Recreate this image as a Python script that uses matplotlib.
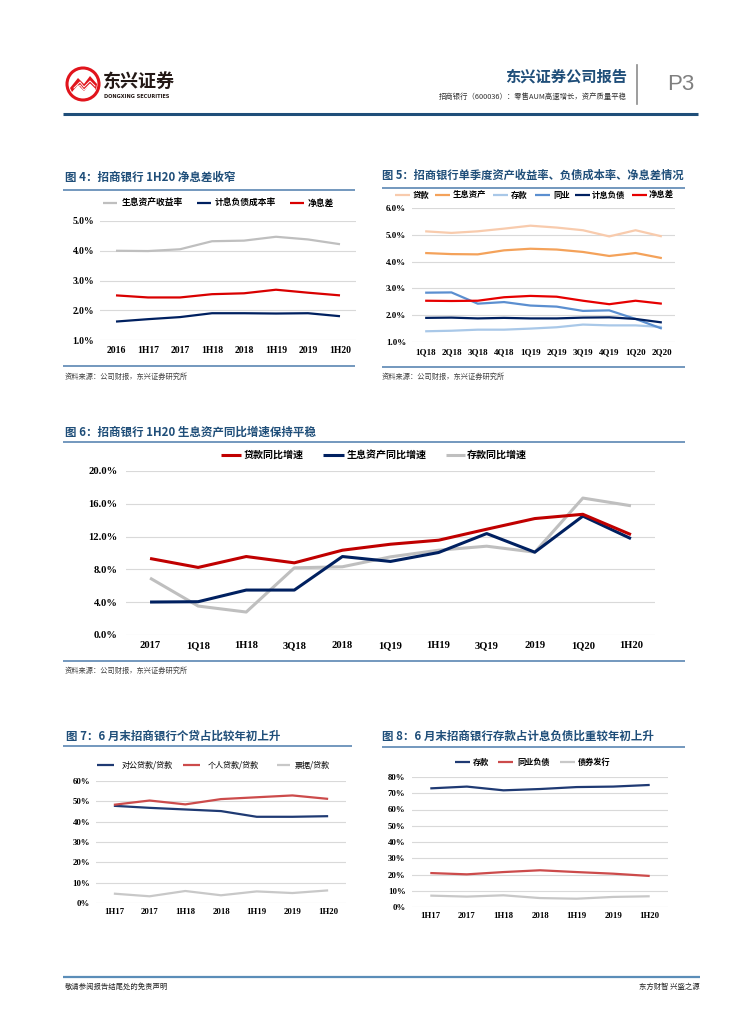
import matplotlib
matplotlib.use('Agg')
import matplotlib.pyplot as plt
from matplotlib.patches import Circle, Polygon
from matplotlib.lines import Line2D

plt.rcParams['font.family'] = ['Noto Sans CJK SC', 'DejaVu Sans']

# ---------------- data ----------------
c4_cats = ['2016', '1H17', '2017', '1H18', '2018', '1H19', '2019', '1H20']
c4_yield = [4.00, 3.99, 4.05, 4.32, 4.34, 4.47, 4.38, 4.22]
c4_cost = [1.62, 1.70, 1.77, 1.90, 1.90, 1.89, 1.90, 1.80]
c4_nim = [2.50, 2.43, 2.43, 2.54, 2.57, 2.69, 2.59, 2.50]
c4_labels = ['生息资产收益率', '计息负债成本率', '净息差']

c5_cats = ['1Q18', '2Q18', '3Q18', '4Q18', '1Q19', '2Q19', '3Q19', '4Q19', '1Q20', '2Q20']
c5_loan = [5.13, 5.07, 5.13, 5.23, 5.34, 5.27, 5.17, 4.94, 5.17, 4.94]
c5_asset = [4.32, 4.28, 4.27, 4.42, 4.48, 4.45, 4.36, 4.21, 4.32, 4.13]
c5_dep = [1.40, 1.42, 1.46, 1.46, 1.50, 1.55, 1.65, 1.62, 1.62, 1.56]
c5_inter = [2.84, 2.85, 2.43, 2.49, 2.36, 2.32, 2.16, 2.18, 1.86, 1.50]
c5_liab = [1.90, 1.91, 1.88, 1.90, 1.88, 1.88, 1.91, 1.92, 1.86, 1.73]
c5_nim = [2.54, 2.53, 2.54, 2.67, 2.72, 2.69, 2.54, 2.41, 2.54, 2.43]
c5_labels = ['贷款', '生息资产', '存款', '同业', '计息负债', '净息差']

c6_cats = ['2017', '1Q18', '1H18', '3Q18', '2018', '1Q19', '1H19', '3Q19', '2019', '1Q20', '1H20']
c6_loan = [9.33, 8.24, 9.57, 8.80, 10.34, 11.07, 11.56, 12.90, 14.20, 14.72, 12.24]
c6_asset = [4.02, 4.06, 5.48, 5.48, 9.57, 8.97, 10.06, 12.37, 10.10, 14.50, 11.75]
c6_dep = [6.94, 3.53, 2.80, 8.19, 8.32, 9.53, 10.34, 10.83, 10.10, 16.70, 15.76]
c6_labels = ['贷款同比增速', '生息资产同比增速', '存款同比增速']

c7_cats = ['1H17', '2017', '1H18', '2018', '1H19', '2019', '1H20']
c7_corp = [47.8, 46.8, 46.0, 45.2, 42.4, 42.4, 42.7]
c7_retail = [48.3, 50.4, 48.5, 51.1, 52.0, 52.9, 51.2]
c7_bill = [4.6, 3.3, 5.9, 3.8, 5.7, 4.9, 6.2]
c7_labels = ['对公贷款/贷款', '个人贷款/贷款', '票据/贷款']

c8_cats = ['1H17', '2017', '1H18', '2018', '1H19', '2019', '1H20']
c8_dep = [73.0, 74.1, 71.8, 72.6, 73.8, 74.1, 75.1]
c8_inter = [20.9, 20.1, 21.5, 22.6, 21.5, 20.5, 19.1]
c8_bond = [7.0, 6.4, 7.2, 5.5, 5.1, 6.2, 6.6]
c8_labels = ['存款', '同业负债', '债券发行']

titles = ['图 4：招商银行 1H20 净息差收窄',
          '图 5：招商银行单季度资产收益率、负债成本率、净息差情况',
          '图 6：招商银行 1H20 生息资产同比增速保持平稳',
          '图 7：6 月末招商银行个贷占比较年初上升',
          '图 8：6 月末招商银行存款占计息负债比重较年初上升']
source = '资料来源：公司财报，东兴证券研究所'

# ---------------- figure ----------------
W, H = 755, 1024
fig = plt.figure(figsize=(W / 100, H / 100), dpi=100)
bg = fig.add_axes([0, 0, 1, 1])
bg.set_xlim(0, W)
bg.set_ylim(H, 0)
bg.axis('off')

TITLE_C = '#1F4E79'
RULE_C = '#5B86B3'
NUMFONT = 'Liberation Serif'


def hline(x0, x1, y, color=RULE_C, lw=1.2):
    bg.add_line(Line2D([x0, x1], [y, y], color=color, lw=lw, solid_capstyle='butt'))


def add_ax(left, right, top, bottom):
    return fig.add_axes([left / W, 1 - bottom / H, (right - left) / W, (bottom - top) / H])


def line_chart(box, cats, series, ylim, yticks, yfmt, fs, lw, ypad, xpad):
    ax = add_ax(*box)
    x = list(range(len(cats)))
    for vals, color in series:
        ax.plot(x, vals, color=color, lw=lw, solid_joinstyle='round',
                solid_capstyle='butt', clip_on=False, zorder=3)
    ax.set_xlim(-0.5, len(cats) - 0.5)
    ax.set_ylim(*ylim)
    ax.set_yticks(yticks)
    ax.set_yticklabels([yfmt(v) for v in yticks])
    ax.set_xticks(x)
    ax.set_xticklabels(cats)
    ax.grid(axis='y', color='#D9D9D9', lw=0.8)
    ax.set_axisbelow(True)
    for s in ax.spines.values():
        s.set_visible(False)
    ax.tick_params(axis='y', length=0, labelsize=fs, pad=ypad)
    ax.tick_params(axis='x', length=0, labelsize=fs, pad=xpad)
    for t in ax.get_xticklabels() + ax.get_yticklabels():
        t.set_fontfamily(NUMFONT)
        t.set_fontweight('bold')
    ax.patch.set_alpha(0)
    return ax


def legend_item(x0, x1, y, color, lw, label, fs, tx, weight='bold'):
    bg.add_line(Line2D([x0, x1], [y, y], color=color, lw=lw, solid_capstyle='butt'))
    bg.text(tx, y, label, fontsize=fs, fontweight=weight, va='center', ha='left', color='black')


# ---------------- header ----------------
bg.add_patch(Circle((83, 84), 16, fill=False, ec='#E1141C', lw=2.2))
bg.add_patch(Polygon([[70, 88], [78, 78], [84, 84], [90, 76], [97, 84], [96, 90], [90, 84],
                      [84, 91], [78, 85], [72, 92]], closed=True, fc='#E1141C', ec='none'))
for dy in (0, 3):
    bg.add_line(Line2D([74, 80, 84, 90, 95], [88 + dy, 82 + dy, 87 + dy, 81 + dy, 86 + dy],
                       color='white', lw=0.7))
bg.text(103, 81, '东兴证券', fontsize=13, fontweight='bold', color='#231815', va='center', ha='left')
bg.text(104, 96, 'DONGXING SECURITIES', fontsize=3.6, fontweight='bold', color='#231815',
        va='center', ha='left', family='DejaVu Sans')

bg.text(627, 77, '东兴证券公司报告', fontsize=11, fontweight='bold', color=TITLE_C, va='center', ha='right')
bg.text(627, 97, '招商银行（600036）：零售AUM高速增长，资产质量平稳', fontsize=5.3, color='#333333',
        va='center', ha='right')
bg.add_line(Line2D([637, 637], [65, 104], color='#8C8C8C', lw=1.2))
bg.text(667, 85, 'P3', fontsize=16, color='#7F7F7F', va='center', ha='left', family='Liberation Sans')
hline(63, 698, 114, color='#1F4E79', lw=2.2)

# ---------------- chart 4 ----------------
bg.text(65, 177, titles[0], fontsize=8.3, fontweight='bold', color=TITLE_C, va='center', ha='left')
hline(63, 355, 190)
legend_item(103, 117, 203, '#BFBFBF', 1.6, c4_labels[0], 6.3, 122)
legend_item(197, 211, 203, '#002060', 1.6, c4_labels[1], 6.3, 215)
legend_item(290, 304, 203, '#D90000', 1.6, c4_labels[2], 6.3, 308)
line_chart((100, 356, 221, 340), c4_cats,
           [(c4_yield, '#BFBFBF'), (c4_cost, '#002060'), (c4_nim, '#D90000')],
           (1, 5), [1, 2, 3, 4, 5], lambda v: f'{v:.1f}%', 6.9, 1.6, 4.3, 4.0)
hline(63, 355, 366)
bg.text(65, 377, source, fontsize=5.2, color='#404040', va='center', ha='left')

# ---------------- chart 5 ----------------
bg.text(382, 175, titles[1], fontsize=8.1, fontweight='bold', color=TITLE_C, va='center', ha='left')
hline(382, 685, 188)
c5_colors = ['#F8CBAD', '#F4A25A', '#A9C8E8', '#5B8FD0', '#002060', '#E60000']
c5_pos = [(395, 410, 413), (435, 450, 453), (493, 508, 511), (535, 550, 553), (575, 590, 592), (632, 647, 649)]
for (x0, x1, tx), col, lab in zip(c5_pos, c5_colors, c5_labels):
    legend_item(x0, x1, 195, col, 1.6, lab, 6.0, tx)
line_chart((412, 675, 208, 342), c5_cats,
           [(c5_loan, c5_colors[0]), (c5_asset, c5_colors[1]), (c5_dep, c5_colors[2]),
            (c5_inter, c5_colors[3]), (c5_liab, c5_colors[4]), (c5_nim, c5_colors[5])],
           (1, 6), [1, 2, 3, 4, 5, 6], lambda v: f'{v:.1f}%', 6.5, 1.6, 4.3, 4.6)
hline(382, 685, 367)
bg.text(382, 377, source, fontsize=5.2, color='#404040', va='center', ha='left')

# ---------------- chart 6 ----------------
bg.text(65, 432, titles[2], fontsize=8.3, fontweight='bold', color=TITLE_C, va='center', ha='left')
hline(63, 685, 442)
legend_item(221, 241, 455, '#C00000', 2.2, c6_labels[0], 7.2, 244)
legend_item(323, 344, 455, '#002060', 2.2, c6_labels[1], 7.2, 347)
legend_item(446, 465, 455, '#BFBFBF', 2.2, c6_labels[2], 7.2, 467)
line_chart((126, 655, 471, 635), c6_cats,
           [(c6_dep, '#BFBFBF'), (c6_asset, '#002060'), (c6_loan, '#C00000')],
           (0, 20), [0, 4, 8, 12, 16, 20], lambda v: f'{v:.1f}%', 7.6, 2.2, 6.0, 4.2)
hline(63, 685, 661)
bg.text(65, 671, source, fontsize=5.2, color='#404040', va='center', ha='left')

# ---------------- chart 7 ----------------
bg.text(66, 736, titles[3], fontsize=8.3, fontweight='bold', color=TITLE_C, va='center', ha='left')
hline(63, 352, 746)
legend_item(97, 114, 765, '#1F3A73', 1.6, c7_labels[0], 5.8, 122, weight='normal')
legend_item(183, 200, 765, '#CC4B4B', 1.6, c7_labels[1], 5.8, 208, weight='normal')
legend_item(277, 290, 765, '#C8C8C8', 1.6, c7_labels[2], 5.8, 295, weight='normal')
line_chart((96, 346, 781, 903), c7_cats,
           [(c7_corp, '#1F3A73'), (c7_retail, '#CC4B4B'), (c7_bill, '#C8C8C8')],
           (0, 60), [0, 10, 20, 30, 40, 50, 60], lambda v: f'{v:.0f}%', 6.3, 1.6, 4.3, 3.4)

# ---------------- chart 8 ----------------
bg.text(382, 736, titles[4], fontsize=8.3, fontweight='bold', color=TITLE_C, va='center', ha='left')
hline(382, 685, 747)
legend_item(455, 470, 762, '#1F3A73', 1.6, c8_labels[0], 5.9, 473)
legend_item(498, 513, 762, '#CC4B4B', 1.6, c8_labels[1], 5.9, 517)
legend_item(560, 575, 762, '#C8C8C8', 1.6, c8_labels[2], 5.9, 578)
line_chart((412, 668, 777, 907), c8_cats,
           [(c8_dep, '#1F3A73'), (c8_inter, '#CC4B4B'), (c8_bond, '#C8C8C8')],
           (0, 80), [0, 10, 20, 30, 40, 50, 60, 70, 80], lambda v: f'{v:.0f}%', 6.3, 1.6, 4.6, 3.4)

# ---------------- footer ----------------
hline(63, 700, 977, color='#5B8DB8', lw=1.6)
bg.text(65, 987, '敬请参阅报告结尾处的免责声明', fontsize=5.3, color='#222222', va='center', ha='left')
bg.text(700, 987, '东方财智 兴盛之源', fontsize=5.3, color='#222222', va='center', ha='right')

fig.savefig('out.png', dpi=100)
